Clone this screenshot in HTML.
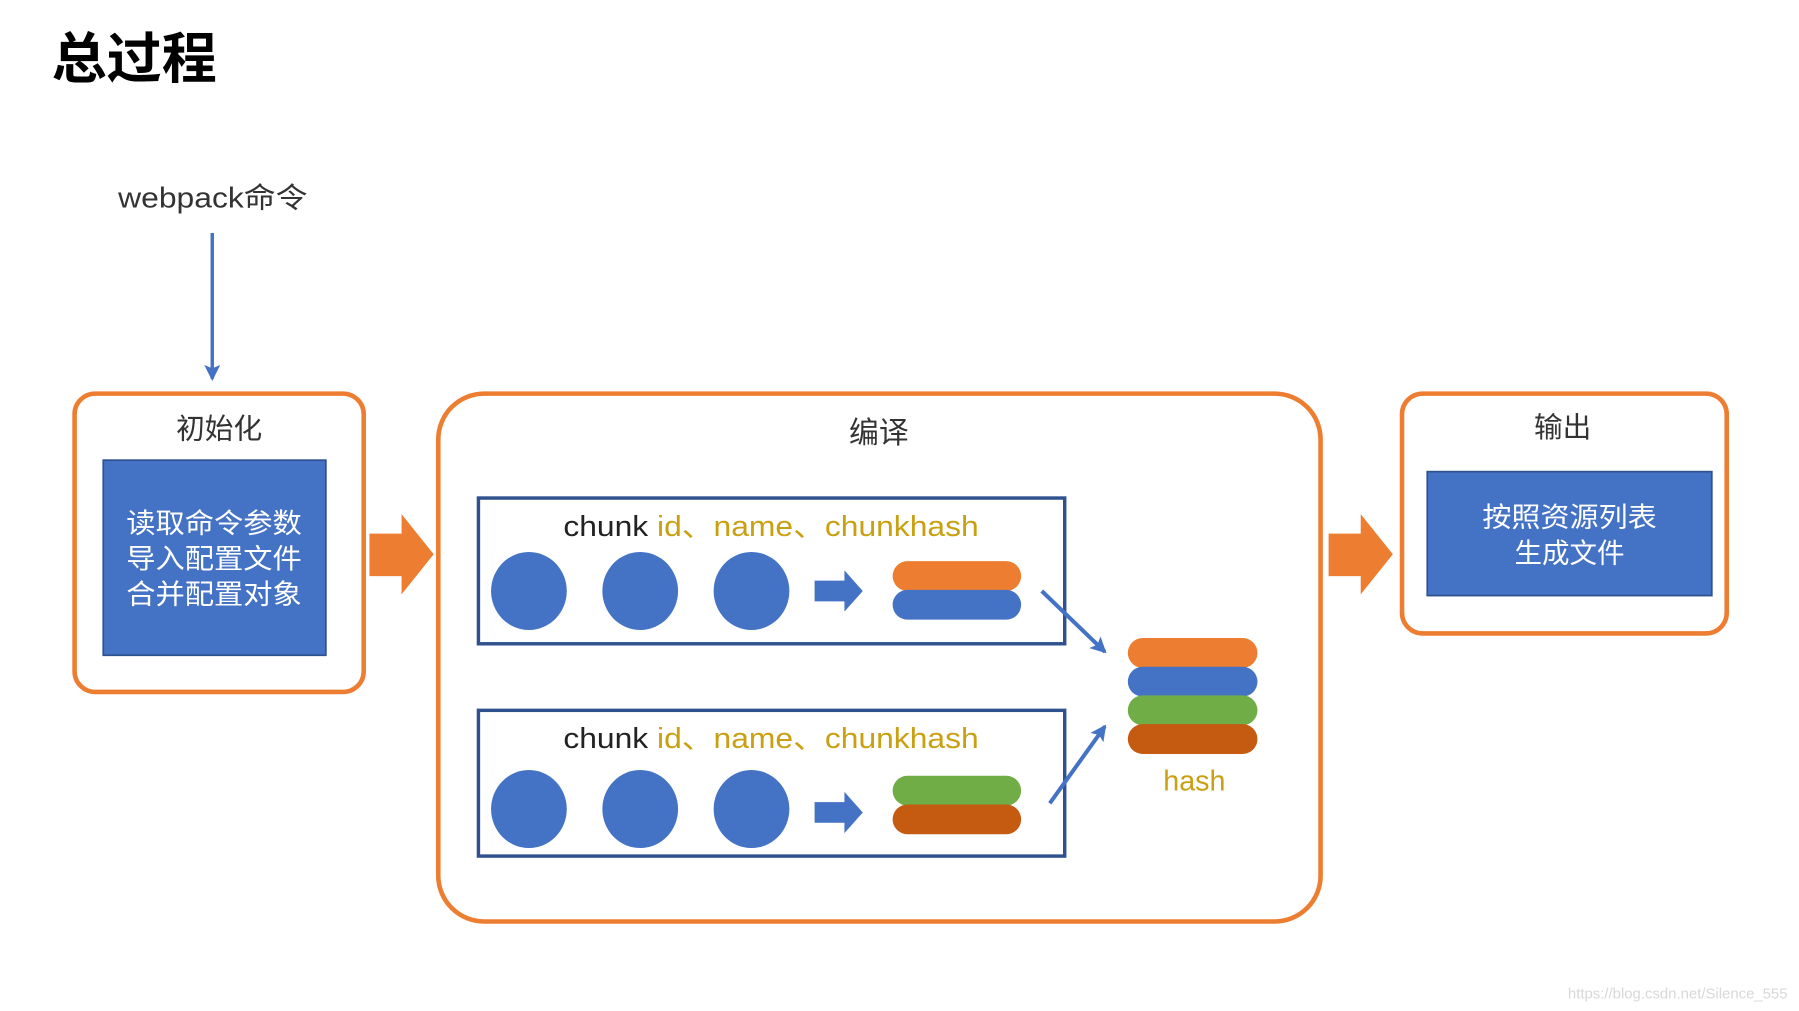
<!DOCTYPE html>
<html><head><meta charset="utf-8"><style>
html,body{margin:0;padding:0;background:#fff;}
svg{display:block;}
text{font-family:"Liberation Sans","Noto Sans CJK SC",sans-serif;}
</style></head><body>
<svg width="1799" height="1011" viewBox="0 0 1568 881" preserveAspectRatio="none" xmlns="http://www.w3.org/2000/svg">
<defs>
<marker id="ah2" markerWidth="14" markerHeight="14" refX="12" refY="7" orient="auto" markerUnits="userSpaceOnUse"><path d="M0,0 L14,7 L0,14 L3,7 z" fill="#4472C4"/></marker>
</defs>
<text x="45" y="68" font-size="48" font-weight="bold" fill="#000">总过程</text>
<text x="103" y="181" font-size="25" fill="#333" textLength="165" lengthAdjust="spacingAndGlyphs">webpack命令</text>
<line x1="185" y1="203" x2="185" y2="330" stroke="#4472C4" stroke-width="3" marker-end="url(#ah2)"/>

<rect x="65" y="343" width="252" height="260" rx="18" fill="none" stroke="#ED7D31" stroke-width="4"/>
<text x="191" y="382" font-size="25" text-anchor="middle" fill="#333">初始化</text>
<rect x="90" y="401" width="194" height="170" fill="#4472C4" stroke="#2F528F" stroke-width="1.5"/>
<g font-size="24" fill="#fff">
<text x="110" y="464" textLength="153" lengthAdjust="spacingAndGlyphs">读取命令参数</text>
<text x="110" y="495" textLength="153" lengthAdjust="spacingAndGlyphs">导入配置文件</text>
<text x="110" y="526" textLength="153" lengthAdjust="spacingAndGlyphs">合并配置对象</text>
</g>

<path d="M322,465 L350,465 L350,448 L378,483 L350,518 L350,502 L322,502 z" fill="#ED7D31"/>
<path d="M1158,465 L1186,465 L1186,448 L1214,483 L1186,518 L1186,502 L1158,502 z" fill="#ED7D31"/>

<rect x="382" y="343" width="769" height="460" rx="40" fill="none" stroke="#ED7D31" stroke-width="4"/>
<text x="766" y="386" font-size="26" text-anchor="middle" fill="#333">编译</text>

<rect x="417" y="434" width="511" height="127" fill="none" stroke="#2F528F" stroke-width="3"/>
<text x="491" y="467" font-size="25" textLength="362" lengthAdjust="spacingAndGlyphs"><tspan fill="#222">chunk </tspan><tspan fill="#C9A011">id、name、chunkhash</tspan></text>
<g fill="#4472C4">
<ellipse cx="461" cy="515" rx="33" ry="34"/><ellipse cx="558" cy="515" rx="33" ry="34"/><ellipse cx="655" cy="515" rx="33" ry="34"/>
<path d="M710,506 L736,506 L736,497 L752,515 L736,533 L736,524 L710,524 z"/>
</g>
<rect x="778" y="489" width="112" height="26" rx="13" fill="#ED7D31"/>
<rect x="778" y="514" width="112" height="26" rx="13" fill="#4472C4"/>

<rect x="417" y="619" width="511" height="127" fill="none" stroke="#2F528F" stroke-width="3"/>
<text x="491" y="652" font-size="25" textLength="362" lengthAdjust="spacingAndGlyphs"><tspan fill="#222">chunk </tspan><tspan fill="#C9A011">id、name、chunkhash</tspan></text>
<g fill="#4472C4">
<ellipse cx="461" cy="705" rx="33" ry="34"/><ellipse cx="558" cy="705" rx="33" ry="34"/><ellipse cx="655" cy="705" rx="33" ry="34"/>
<path d="M710,699 L736,699 L736,690 L752,708 L736,726 L736,717 L710,717 z"/>
</g>
<rect x="778" y="676" width="112" height="26" rx="13" fill="#70AD47"/>
<rect x="778" y="701" width="112" height="26" rx="13" fill="#C55A11"/>

<line x1="908" y1="515" x2="963" y2="568" stroke="#4472C4" stroke-width="3.5" marker-end="url(#ah2)"/>
<line x1="915" y1="700" x2="963" y2="633" stroke="#4472C4" stroke-width="3.5" marker-end="url(#ah2)"/>

<rect x="983" y="556" width="113" height="26" rx="13" fill="#ED7D31"/>
<rect x="983" y="581" width="113" height="26" rx="13" fill="#4472C4"/>
<rect x="983" y="606" width="113" height="26" rx="13" fill="#70AD47"/>
<rect x="983" y="631" width="113" height="26" rx="13" fill="#C55A11"/>
<text x="1041" y="689" font-size="25" text-anchor="middle" fill="#C9A011">hash</text>

<rect x="1222" y="343" width="283" height="209" rx="18" fill="none" stroke="#ED7D31" stroke-width="4"/>
<text x="1362" y="381" font-size="25" text-anchor="middle" fill="#333">输出</text>
<rect x="1244" y="411" width="248" height="108" fill="#4472C4" stroke="#2F528F" stroke-width="1.5"/>
<text x="1292" y="459" font-size="24" fill="#fff" textLength="152" lengthAdjust="spacingAndGlyphs">按照资源列表</text>
<text x="1368" y="490" font-size="24" text-anchor="middle" fill="#fff">生成文件</text>

<text x="1558" y="870" font-size="13" text-anchor="end" fill="#d8d8d8">https://blog.csdn.net/Silence_555</text>
</svg>
</body></html>
